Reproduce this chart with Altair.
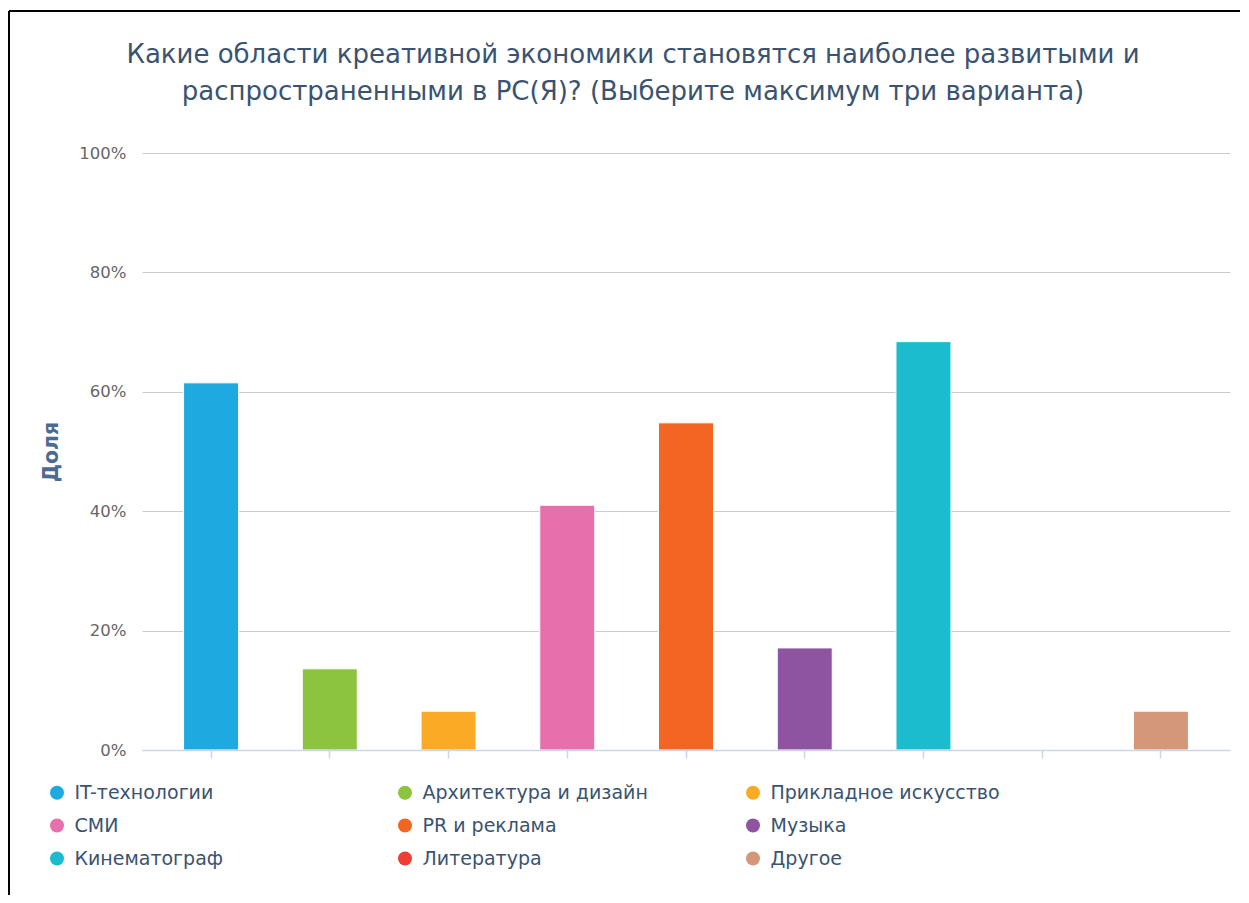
import altair as alt
import pandas as pd

categories = [
    "IT-технологии", "Архитектура и дизайн", "Прикладное искусство",
    "СМИ", "PR и реклама", "Музыка",
    "Кинематограф", "Литература", "Другое",
]
shares = [61.5, 13.6, 6.5, 41.0, 54.8, 17.1, 68.4, 0.0, 6.5]
colors = [
    "#1fa9e1", "#8cc43f", "#fbaa26",
    "#e76fac", "#f26522", "#8e54a1",
    "#1cbccf", "#ee3e35", "#d5977a",
]
y_ticks = [0, 20, 40, 60, 80, 100]
title_lines = [
    "Какие области креативной экономики становятся наиболее развитыми и",
    "распространенными в РС(Я)? (Выберите максимум три варианта)",
]

df = pd.DataFrame({"cat": categories, "share": shares})

FONT = "DejaVu Sans"
TEXT = "#3a5370"

bars = alt.Chart(df).mark_bar(stroke="white", strokeWidth=1).encode(
    x=alt.X("cat:N", sort=None, title=None,
            scale=alt.Scale(paddingInner=0.537, paddingOuter=0.35),
            axis=alt.Axis(labels=False, grid=False, domainColor="#ccd6eb",
                          domainWidth=1.5, tickColor="#ccd6eb", tickSize=8,
                          tickWidth=1.5, zindex=1)),
    y=alt.Y("share:Q", title="Доля",
            scale=alt.Scale(domain=[0, 100], nice=False),
            axis=alt.Axis(values=y_ticks, labelExpr="datum.value + '%'",
                          domain=False, ticks=False, labelPadding=16,
                          labelFontSize=16.5, labelColor="#666666", labelFont=FONT,
                          gridColor="#cccccc", gridWidth=1,
                          titleFont=FONT, titleFontSize=20.5, titleFontWeight="bold",
                          titleColor="#4d6a91", titleX=-91, titleY=298.5,
                          titleAlign="center", titleBaseline="middle", titleAngle=-90)),
    color=alt.Color("cat:N", sort=None,
                    scale=alt.Scale(domain=categories, range=colors),
                    legend=alt.Legend(title=None, orient="none", legendX=-94.5, legendY=630,
                                      direction="horizontal", columns=3, gridAlign="all",
                                      columnPadding=91, rowPadding=13, padding=0,
                                      symbolType="circle", symbolSize=196,
                                      symbolStrokeWidth=0, labelOffset=8,
                                      labelFont=FONT, labelFontSize=19,
                                      labelColor=TEXT, labelLimit=400)),
)

one = alt.Data(values=[{"k": 1}])
top_line = alt.Chart(one).mark_rule(color="black", strokeWidth=2).encode(
    x=alt.value(-133), x2=alt.value(1098), y=alt.value(-142)
)
left_line = alt.Chart(one).mark_rule(color="black", strokeWidth=2).encode(
    x=alt.value(-133), y=alt.value(-142), y2=alt.value(742)
)

chart = alt.layer(bars, top_line, left_line).properties(
    width=1088,
    height=597,
    padding={"left": 0, "top": 2, "right": 0, "bottom": 0},
    title=alt.Title(text=title_lines, font=FONT, fontSize=26, fontWeight="normal",
                    color=TEXT, anchor="middle", frame="bounds", offset=-95.2,
                    lineHeight=37, dx=8.5),
).configure_view(stroke=None)

chart.save("out.html", embed_options={"renderer": "svg", "actions": False})
